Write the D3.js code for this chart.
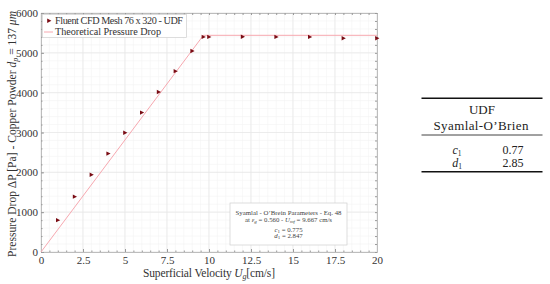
<!DOCTYPE html>
<html>
<head>
<meta charset="utf-8">
<script src="https://cdn.jsdelivr.net/npm/d3@7"></script>
<style>
  body { margin: 0; background: #fff; }
  svg { display: block; }
</style>
</head>
<body>
<svg class="svg"></svg>
<script>
// values
const velocity = [1, 2, 3, 4, 5, 6, 7, 8, 9, 9.667, 10, 12, 14, 16, 18, 20];
const pressureCFD = [800, 1390, 1940, 2470, 2995, 3500, 4015, 4540, 5045, 5400, 5400, 5405, 5400, 5400, 5365, 5365];
const theoryU = [0, 9.667, 20];
const theoryP = [0, 5440, 5440];
const xTicks = [0, 2.5, 5, 7.5, 10, 12.5, 15, 17.5, 20];
const yTicks = [0, 1000, 2000, 3000, 4000, 5000, 6000];
const legendLabels = ["Fluent CFD Mesh 76 x 320 - UDF", "Theoretical Pressure Drop"];
const tableRows = [["c", "0.77"], ["d", "2.85"]];

const svg = d3.select(".svg").attr("width", 550).attr("height", 284);

const plotLeft = 41, plotRight = 377, plotTop = 13, plotBottom = 252;
const serif = "'Liberation Serif', 'DejaVu Serif', serif";

const x = d3.scaleLinear().domain([0, 20]).range([plotLeft, plotRight]);
const y = d3.scaleLinear().domain([0, 6000]).range([plotBottom, plotTop]);

// minor grid
svg.append("g").selectAll("line")
    .data(d3.range(0, 20.01, 0.5))
    .enter().append("line")
    .attr("x1", d => x(d)).attr("x2", d => x(d))
    .attr("y1", plotTop).attr("y2", plotBottom)
    .attr("stroke", "#f4f4f4").attr("stroke-width", 0.6);
svg.append("g").selectAll("line")
    .data(d3.range(0, 6001, 200))
    .enter().append("line")
    .attr("y1", d => y(d)).attr("y2", d => y(d))
    .attr("x1", plotLeft).attr("x2", plotRight)
    .attr("stroke", "#f4f4f4").attr("stroke-width", 0.6);

// major grid
svg.append("g").selectAll("line")
    .data(xTicks)
    .enter().append("line")
    .attr("x1", d => x(d)).attr("x2", d => x(d))
    .attr("y1", plotTop).attr("y2", plotBottom)
    .attr("stroke", "#e6e6e6").attr("stroke-width", 0.7);
svg.append("g").selectAll("line")
    .data(yTicks)
    .enter().append("line")
    .attr("y1", d => y(d)).attr("y2", d => y(d))
    .attr("x1", plotLeft).attr("x2", plotRight)
    .attr("stroke", "#e6e6e6").attr("stroke-width", 0.7);

// axes with inward ticks on all sides
function styleAxis(g) {
    g.select(".domain").attr("stroke", "#bdbdbd");
    g.selectAll(".tick line").attr("stroke", "#9a9a9a");
    g.selectAll("text").attr("font-family", serif).attr("font-size", 11).attr("fill", "#333");
}
svg.append("g").attr("transform", `translate(0,${plotBottom})`)
    .call(d3.axisBottom(x).tickValues(xTicks).tickFormat(d3.format("")).tickSizeInner(-3).tickSizeOuter(0).tickPadding(4))
    .call(styleAxis);
svg.append("g").attr("transform", `translate(0,${plotBottom})`)
    .call(d3.axisBottom(x).tickValues(d3.range(0, 20.01, 0.5)).tickFormat("").tickSizeInner(-1.5).tickSizeOuter(0))
    .call(styleAxis);
svg.append("g").attr("transform", `translate(0,${plotTop})`)
    .call(d3.axisTop(x).tickValues(d3.range(0, 20.01, 0.5)).tickFormat("").tickSizeInner(-2).tickSizeOuter(0))
    .call(styleAxis);
svg.append("g").attr("transform", `translate(${plotLeft},0)`)
    .call(d3.axisLeft(y).tickValues(yTicks).tickFormat(d3.format("")).tickSizeInner(-3).tickSizeOuter(0).tickPadding(3))
    .call(styleAxis);
svg.append("g").attr("transform", `translate(${plotLeft},0)`)
    .call(d3.axisLeft(y).tickValues(d3.range(0, 6001, 200)).tickFormat("").tickSizeInner(-1.5).tickSizeOuter(0))
    .call(styleAxis);
svg.append("g").attr("transform", `translate(${plotRight},0)`)
    .call(d3.axisRight(y).tickValues(d3.range(0, 6001, 200)).tickFormat("").tickSizeInner(-2).tickSizeOuter(0))
    .call(styleAxis);

// theoretical line
const line = d3.line().x((d, i) => x(theoryU[i])).y(d => y(d));
svg.append("path")
    .datum(theoryP)
    .attr("d", line)
    .attr("fill", "none")
    .attr("stroke", "#f7a8b0")
    .attr("stroke-width", 1);

// CFD markers: small right-pointing triangles
const tri = "M-1.8,-2.2L2.4,0L-1.8,2.2Z";
svg.append("g").selectAll("path")
    .data(pressureCFD)
    .enter().append("path")
    .attr("d", tri)
    .attr("transform", (d, i) => `translate(${x(velocity[i])},${y(d)})`)
    .attr("fill", "#7a0c14");

// legend
const lg = svg.append("g");
lg.append("rect").attr("x", 42.5).attr("y", 14.5).attr("width", 144).attr("height", 23)
    .attr("fill", "#fff").attr("stroke", "#cfcfcf").attr("stroke-width", 0.7);
lg.append("path").attr("d", tri).attr("transform", "translate(49,20.7)").attr("fill", "#7a0c14");
lg.append("line").attr("x1", 44).attr("x2", 53).attr("y1", 32).attr("y2", 32)
    .attr("stroke", "#f7a8b0").attr("stroke-width", 1);
lg.selectAll("text").data(legendLabels).enter().append("text")
    .attr("x", 55).attr("y", (d, i) => 24 + i * 11.3)
    .attr("font-family", serif).attr("font-size", 10.2).attr("fill", "#333")
    .attr("textLength", (d, i) => i === 0 ? 128 : 106)
    .text(d => d);

// annotation box
const ann = svg.append("g").attr("font-family", serif).attr("fill", "#444").attr("font-size", 6.8);
ann.append("rect").attr("x", 230).attr("y", 203).attr("width", 117).attr("height", 42)
    .attr("fill", "#fff").attr("stroke", "#cfcfcf").attr("stroke-width", 0.7);
ann.append("text").attr("x", 288.5).attr("y", 215).attr("text-anchor", "middle")
    .attr("textLength", 106).text("Syamlal - O’Brein Parameters - Eq. 48");
const a2 = ann.append("text").attr("x", 288.5).attr("y", 221.8).attr("text-anchor", "middle");
a2.append("tspan").text("at ");
a2.append("tspan").attr("font-style", "italic").text("ε");
a2.append("tspan").attr("font-style", "italic").attr("font-size", 5).attr("dy", 1).text("g");
a2.append("tspan").attr("dy", -1).text(" = 0.560 - ");
a2.append("tspan").attr("font-style", "italic").text("U");
a2.append("tspan").attr("font-style", "italic").attr("font-size", 5).attr("dy", 1).text("mf");
a2.append("tspan").attr("dy", -1).text(" = 9.667 cm/s");
[["c", "0.775", 231.8], ["d", "2.847", 237.6]].forEach(r => {
    const t = ann.append("text").attr("x", 288.5).attr("y", r[2]).attr("text-anchor", "middle");
    t.append("tspan").attr("font-style", "italic").text(r[0]);
    t.append("tspan").attr("font-size", 5).attr("dy", 1).text("1");
    t.append("tspan").attr("dy", -1).text(" = " + r[1]);
});

// axis titles
const xt = svg.append("text").attr("x", 209).attr("y", 277).attr("text-anchor", "middle")
    .attr("font-family", serif).attr("font-size", 11.5).attr("fill", "#333")
    .attr("textLength", 132);
xt.append("tspan").text("Superficial Velocity ");
xt.append("tspan").attr("font-style", "italic").text("U");
xt.append("tspan").attr("font-style", "italic").attr("font-size", 8).attr("dy", 2).text("g");
xt.append("tspan").attr("dy", -2).text("[cm/s]");

const yt = svg.append("text").attr("transform", "translate(16,134) rotate(-90)").attr("text-anchor", "middle")
    .attr("font-family", serif).attr("font-size", 11.5).attr("fill", "#333")
    .attr("textLength", 246);
yt.append("tspan").text("Pressure Drop ΔP [Pa] - Copper Powder ");
yt.append("tspan").attr("font-style", "italic").text("d");
yt.append("tspan").attr("font-style", "italic").attr("font-size", 8).attr("dy", 2).text("p");
yt.append("tspan").attr("dy", -2).text(" = 137 ");
yt.append("tspan").attr("font-style", "italic").text("μm");

// table on the right
const tb = svg.append("g").attr("font-family", serif).attr("fill", "#222");
tb.append("line").attr("x1", 421.5).attr("x2", 542.5).attr("y1", 98.3).attr("y2", 98.3).attr("stroke", "#111").attr("stroke-width", 1.4);
tb.append("line").attr("x1", 421.5).attr("x2", 542.5).attr("y1", 135).attr("y2", 135).attr("stroke", "#111").attr("stroke-width", 0.8);
tb.append("line").attr("x1", 421.5).attr("x2", 542.5).attr("y1", 171.7).attr("y2", 171.7).attr("stroke", "#111").attr("stroke-width", 1.4);
tb.append("text").attr("x", 482).attr("y", 113.5).attr("text-anchor", "middle").attr("font-size", 13).text("UDF");
tb.append("text").attr("x", 481).attr("y", 129.5).attr("text-anchor", "middle").attr("font-size", 13)
    .attr("textLength", 95).text("Syamlal-O’Brien");
tableRows.forEach((r, i) => {
    const ty = 154 + i * 13.3;
    const t = tb.append("text").attr("x", 457).attr("y", ty).attr("text-anchor", "middle").attr("font-size", 12);
    t.append("tspan").attr("font-style", "italic").text(r[0]);
    t.append("tspan").attr("font-size", 7.5).attr("dy", 1.5).text("1");
    tb.append("text").attr("x", 513).attr("y", ty).attr("text-anchor", "middle").attr("font-size", 12).text(r[1]);
});
</script>
</body>
</html>
